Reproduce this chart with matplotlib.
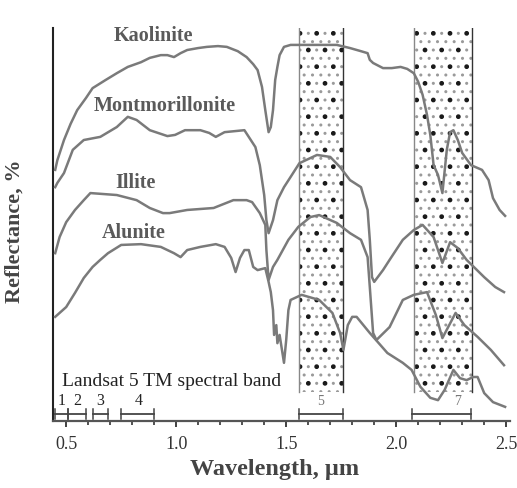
#!/usr/bin/env python3
"""
Reflectance spectra of clay minerals with Landsat 5 TM bands 5 and 7
"""

import matplotlib
matplotlib.use("Agg")
import matplotlib.pyplot as plt
import matplotlib.patches as patches
from matplotlib.ticker import MultipleLocator

plt.rcParams['font.family'] = ['Liberation Serif', 'DejaVu Serif']
plt.rcParams['hatch.linewidth'] = 1.0

# spectra (wavelength in um, reflectance in % of plot height)
kaolinite_wl = [0.45, 0.46, 0.49, 0.52, 0.55, 0.59, 0.62, 0.68, 0.73, 0.78,
                0.84, 0.88, 0.93, 0.96, 0.99, 1.02, 1.05, 1.10, 1.14, 1.19,
                1.23, 1.28, 1.32, 1.35, 1.37, 1.39, 1.405, 1.42, 1.43, 1.44,
                1.45, 1.46, 1.47, 1.49, 1.52, 1.56, 1.65, 1.73, 1.79, 1.84,
                1.87, 1.88, 1.895, 1.94, 1.98, 2.02, 2.05, 2.08, 2.10, 2.12,
                2.14, 2.155, 2.17, 2.19, 2.21, 2.23, 2.245, 2.26, 2.28, 2.30,
                2.34, 2.39, 2.42, 2.44, 2.47, 2.495]
kaolinite_r = [63.9, 66.4, 71.5, 75.6, 79.1, 82.2, 84.7, 86.8, 88.5, 90.1,
               91.3, 92.4, 93.1, 93.1, 92.6, 93.6, 94.4, 94.9, 95.2, 95.4,
               95.2, 94.1, 92.6, 90.8, 89.3, 85.0, 79.1, 73.5, 74.8, 79.1,
               86.8, 90.1, 93.1, 95.2, 95.7, 95.7, 95.7, 95.7, 94.9, 94.1,
               93.6, 91.9, 91.1, 89.8, 89.8, 90.1, 89.6, 88.5, 86.3, 83.0,
               77.9, 72.8, 65.1, 62.6, 58.0, 69.0, 73.5, 74.0, 71.5, 68.2,
               65.1, 63.9, 61.3, 56.7, 53.7, 52.2]

montmor_wl = [0.45, 0.46, 0.49, 0.53, 0.58, 0.655, 0.73, 0.78, 0.82, 0.88,
              0.96, 0.995, 1.04, 1.11, 1.15, 1.18, 1.22, 1.31, 1.36, 1.38,
              1.40, 1.41, 1.42, 1.44, 1.46, 1.49, 1.52, 1.56, 1.64, 1.70,
              1.745, 1.79, 1.84, 1.87, 1.88, 1.89, 1.90, 1.94, 1.97, 2.03,
              2.08, 2.12, 2.17, 2.19, 2.21, 2.245, 2.28, 2.32, 2.40, 2.45,
              2.49]
montmor_r = [59.5, 60.6, 63.1, 69.0, 71.5, 72.3, 74.8, 77.4, 76.6, 74.0,
             72.5, 72.8, 74.0, 74.0, 73.3, 72.3, 73.5, 74.0, 69.7, 65.1,
             57.5, 51.1, 47.8, 51.1, 56.2, 59.5, 62.1, 65.6, 67.7, 67.2,
             64.6, 61.3, 59.5, 53.7, 46.1, 36.6, 35.4, 38.4, 41.0, 46.1,
             48.6, 49.9, 46.8, 43.5, 40.2, 45.5, 44.0, 41.0, 36.6, 34.1,
             32.8]

illite_wl = [0.45, 0.47, 0.50, 0.54, 0.58, 0.61, 0.73, 0.82, 0.88, 0.94,
             0.97, 1.05, 1.17, 1.26, 1.32, 1.345, 1.38, 1.405, 1.41, 1.42,
             1.44, 1.46, 1.51, 1.555, 1.61, 1.65, 1.73, 1.79, 1.84, 1.87,
             1.88, 1.895, 1.91, 1.97, 2.03, 2.08, 2.14, 2.18, 2.21, 2.27,
             2.31, 2.37, 2.43, 2.49]
illite_r = [42.7, 46.8, 50.6, 53.7, 56.2, 58.0, 57.5, 56.2, 54.2, 52.9,
            52.9, 53.7, 54.2, 56.2, 56.2, 55.7, 52.9, 49.9, 43.5, 35.9,
            39.2, 41.0, 46.1, 49.4, 51.9, 52.4, 50.4, 47.8, 46.1, 41.7,
            34.1, 22.4, 20.6, 23.9, 30.8, 32.1, 32.8, 27.0, 21.1, 27.5,
            24.4, 21.4, 18.1, 14.2]

alunite_wl = [0.45, 0.47, 0.50, 0.54, 0.58, 0.62, 0.655, 0.69, 0.75, 0.84,
              0.93, 0.99, 1.02, 1.05, 1.11, 1.18, 1.22, 1.25, 1.27, 1.29,
              1.31, 1.33, 1.35, 1.37, 1.405, 1.42, 1.43, 1.44, 1.445, 1.455,
              1.46, 1.47, 1.49, 1.50, 1.51, 1.52, 1.57, 1.65, 1.71, 1.745,
              1.76, 1.78, 1.80, 1.82, 1.88, 1.96, 2.03, 2.07, 2.11, 2.155,
              2.19, 2.22, 2.26, 2.29, 2.32, 2.35, 2.37, 2.40, 2.44, 2.495]
alunite_r = [26.5, 27.5, 29.0, 32.6, 36.4, 39.2, 41.0, 42.7, 44.8, 45.0,
             44.3, 42.7, 41.7, 43.5, 44.3, 45.0, 44.3, 41.5, 37.9, 41.5,
             43.5, 43.5, 39.2, 38.4, 38.9, 35.4, 32.8, 28.2, 21.9, 24.4,
             19.8, 21.9, 14.8, 20.6, 28.2, 30.8, 32.1, 30.8, 27.5, 22.4,
             18.1, 24.4, 26.5, 26.5, 22.4, 17.3, 14.8, 13.0, 8.7, 5.9,
             5.3, 7.9, 13.0, 10.9, 10.4, 11.2, 11.2, 7.1, 4.8, 3.6]

# curve labels: name, wavelength, reflectance
label_names = ['Kaolinite', 'Montmorillonite', 'Illite', 'Alunite']
label_wl = [0.895, 0.95, 0.815, 0.805]
label_r = [98.0, 80.2, 60.6, 47.8]

# Landsat 5 TM spectral bands (as drawn)
band_names = ['1', '2', '3', '4', '5', '7']
band_lo = [0.45, 0.51, 0.62, 0.75, 1.56, 2.07]
band_hi = [0.51, 0.59, 0.69, 0.90, 1.76, 2.34]
band_label_wl = [0.48, 0.55, 0.655, 0.83, 1.655, 2.28]

# stippled windows (bands 5 and 7)
window_lo = [1.56, 2.08]
window_hi = [1.76, 2.345]
window_bottom = 7.4
window_top = 100

CURVE_COLOR = '#7a7a7a'

fig = plt.figure(figsize=(5.17, 4.88), dpi=100)
ax = fig.add_axes([0.1025, 0.1373, 0.883, 0.8053])
ax.set_xlim(0.44, 2.515)
ax.set_ylim(0, 100)

for lo, hi in zip(window_lo, window_hi):
    ax.add_patch(patches.Rectangle((lo, window_bottom), hi - lo, window_top - window_bottom,
                                   facecolor='none', edgecolor='#9a9a9a', linewidth=0,
                                   hatch='..', zorder=1))
    ax.add_patch(patches.Rectangle((lo, window_bottom), hi - lo, window_top - window_bottom,
                                   facecolor='none', edgecolor='#1a1a1a', linewidth=0,
                                   hatch='.', zorder=1))
    ax.plot([lo, lo], [window_bottom, window_top], color='#888888', lw=1.0, zorder=2)
    ax.plot([hi, hi], [window_bottom, window_top], color='#333333', lw=1.0, zorder=2)

for wl, r in [(kaolinite_wl, kaolinite_r), (montmor_wl, montmor_r),
              (illite_wl, illite_r), (alunite_wl, alunite_r)]:
    ax.plot(wl, r, color=CURVE_COLOR, lw=1.8, solid_joinstyle='round', zorder=3)

for name, x, y in zip(label_names, label_wl, label_r):
    ax.text(x, y, name, ha='center', va='center', fontsize=14.5,
            fontweight='bold', color='#5a5a5a', zorder=4)

# band bars along the bottom
BAR_Y = 1.8
for name, lo, hi, lx in zip(band_names, band_lo, band_hi, band_label_wl):
    ax.plot([lo, hi], [BAR_Y, BAR_Y], color='#444444', lw=1.3, zorder=3)
    for e in (lo, hi):
        ax.plot([e, e], [BAR_Y - 1.2, BAR_Y + 1.2], color='#444444', lw=1.1, zorder=3)
    if name in ('5', '7'):
        ax.text(lx, 4.1, name, ha='center', va='baseline', fontsize=10, color='#777777')
    else:
        ax.text(lx, 4.1, name, ha='center', va='baseline', fontsize=11.5, color='#222222')

ax.text(0.48, 8.9, 'Landsat 5 TM spectral band', ha='left', va='baseline',
        fontsize=14, color='#222222', zorder=4)

ax.spines['top'].set_visible(False)
ax.spines['right'].set_visible(False)
ax.spines['left'].set_color('#222222')
ax.spines['left'].set_linewidth(1.5)
ax.spines['bottom'].set_color('#555555')
ax.spines['bottom'].set_linewidth(1.6)

ax.xaxis.set_major_locator(MultipleLocator(0.5))
ax.xaxis.set_minor_locator(MultipleLocator(0.1))
ax.set_xticks([0.5, 1.0, 1.5, 2.0, 2.5])
ax.set_xticklabels(['0.5', '1.0', '1.5', '2.0', '2.5'])
ax.tick_params(axis='x', which='major', direction='out', length=4, width=1.3,
               color='#333333', labelsize=13, labelcolor='#333333', pad=7)
ax.tick_params(axis='x', which='minor', direction='out', length=3, width=1.2,
               color='#333333')
ax.set_yticks([])

fig.text(0.532, 0.037, 'Wavelength, \u00b5m', ha='center', va='center',
         fontsize=17.5, fontweight='bold', color='#444444')
fig.text(0.029, 0.527, 'Reflectance, %', ha='center', va='center', rotation=90,
         fontsize=16, fontweight='bold', color='#444444')

fig.savefig('out.png', dpi=100, facecolor='white')
